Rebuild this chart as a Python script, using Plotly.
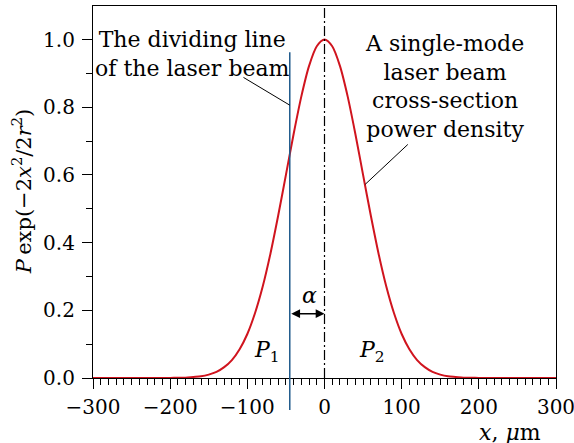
import plotly.graph_objects as go

# ---- data ----
x_um = list(range(-300, 301, 10))
power = [0.000, 0.000, 0.000, 0.000, 0.000, 0.000, 0.000, 0.000, 0.000, 0.000,
         0.000, 0.001, 0.001, 0.003, 0.005, 0.010, 0.018, 0.032, 0.053, 0.085,
         0.130, 0.192, 0.271, 0.368, 0.480, 0.600, 0.721, 0.832, 0.922, 0.980,
         1.000,
         0.980, 0.922, 0.832, 0.721, 0.600, 0.480, 0.368, 0.271, 0.192, 0.130,
         0.085, 0.053, 0.032, 0.018, 0.010, 0.005, 0.003, 0.001, 0.001, 0.000,
         0.000, 0.000, 0.000, 0.000, 0.000, 0.000, 0.000, 0.000, 0.000, 0.000]
x_ticks = [-300, -200, -100, 0, 100, 200, 300]
divide_x = -45
center_x = 0

FONT = "DejaVu Serif"
FS = 22
TFS = 20

fig = go.Figure()
fig.add_trace(go.Scatter(x=x_um, y=power, mode="lines",
                         line=dict(color="#d0141e", width=2, shape="spline", smoothing=0.8),
                         showlegend=False, hoverinfo="skip"))

fig.add_shape(type="line", xref="x", yref="paper", x0=center_x, x1=center_x, y0=0, y1=1,
              line=dict(color="black", width=1.2, dash="10px,3px,2px,3px"))
fig.add_shape(type="line", xref="x", yref="paper", x0=divide_x, x1=divide_x, y0=-0.086, y1=0.876,
              line=dict(color="#1f5a8c", width=1.5))
# leader lines
fig.add_shape(type="line", xref="x", yref="y", x0=-105, y0=0.888, x1=divide_x, y1=0.806,
              line=dict(color="black", width=1))
fig.add_shape(type="line", xref="x", yref="y", x0=108, y0=0.690, x1=52.7, y1=0.572,
              line=dict(color="black", width=1))

# double arrow
fig.add_annotation(x=center_x, y=0.19, ax=divide_x, ay=0.19, xref="x", yref="y",
                   axref="x", ayref="y", text="", showarrow=True, arrowside="end+start",
                   arrowhead=2, arrowsize=1.1, arrowwidth=1.6, arrowcolor="black",
                   standoff=0, startstandoff=0)

def txt(x, y, s, size=FS, **kw):
    fig.add_annotation(x=x, y=y, xref="x", yref="y", text=s, showarrow=False,
                       font=dict(family=FONT, size=size, color="black"), **kw)

txt(-171, 0.958, "The dividing line<br>of the laser beam")
txt(156, 0.862, "A single-mode<br>laser beam<br>cross-section<br>power density")
txt(-20, 0.243, "<i>α</i>")
txt(-74.6, 0.078, "<i>P</i><sub>1</sub>")
txt(61, 0.078, "<i>P</i><sub>2</sub>")

fig.add_annotation(xref="paper", yref="paper", x=0.972, y=-0.146, xanchor="right", yanchor="middle",
                   text="<i>x</i>, <i>μ</i>m", showarrow=False,
                   font=dict(family=FONT, size=FS, color="black"))
fig.add_annotation(xref="paper", yref="paper", x=-0.153, y=0.5, xanchor="center", yanchor="middle",
                   textangle=-90, text="<i>P</i>\u2009exp(−2<i>x</i><sup>2</sup>/2<i>r</i><sup>2</sup>)",
                   showarrow=False, font=dict(family=FONT, size=21, color="black"))

axis_common = dict(showline=True, linecolor="black", linewidth=1.2, mirror=True,
                   showgrid=False, zeroline=False, ticks="outside", ticklen=10,
                   tickwidth=1.2, tickcolor="black", ticklabeloverflow="allow",
                   automargin=False,
                   tickfont=dict(family=FONT, size=TFS, color="black"))

fig.update_xaxes(range=[-300, 300], tickvals=x_ticks, ticklabelstandoff=1,
                 minor=dict(dtick=10, ticklen=6, ticks="outside", tickwidth=1, tickcolor="black"),
                 **axis_common)
fig.update_yaxes(range=[0, 1.099], dtick=0.2, tickformat=".1f", ticklabelstandoff=3,
                 minor=dict(dtick=0.1, ticklen=6, ticks="outside", tickwidth=1, tickcolor="black"),
                 **axis_common)

fig.update_layout(width=574, height=443, margin=dict(l=93, r=18, t=6, b=65),
                  paper_bgcolor="white", plot_bgcolor="white",
                  font=dict(family=FONT, size=FS, color="black"))

fig.write_html("out.html")
